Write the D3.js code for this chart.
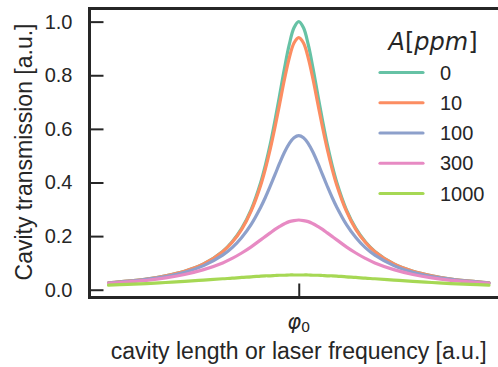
<!DOCTYPE html>
<html>
<head>
<meta charset="utf-8">
<script src="https://cdn.jsdelivr.net/npm/d3@7"></script>
<style>
	body { margin: 0; background: #fff; }
	text { font-family: "Liberation Sans", Arial, sans-serif; fill: #262626; }
	.math { font-family: "DejaVu Sans", sans-serif; }
</style>
</head>
<body>
<svg id="chart" width="498" height="367"></svg>
<script>
// detuning from resonance (arbitrary units), resonance at 0
const detuning = [
	-1.0, -0.9, -0.8, -0.7, -0.6, -0.5, -0.4, -0.35, -0.3, -0.25, -0.2, -0.175, -0.15, -0.125, -0.1, -0.075, -0.05, -0.025,
	0,
	0.025, 0.05, 0.075, 0.1, 0.125, 0.15, 0.175, 0.2, 0.25, 0.3, 0.35, 0.4, 0.5, 0.6, 0.7, 0.8, 0.9, 1.0
];

const losses = ['0', '10', '100', '300', '1000'];

// transmission for each loss value, same order as detuning
const trans0 = [
	0.026, 0.032, 0.040, 0.052, 0.069, 0.096, 0.143, 0.179, 0.229, 0.299, 0.400, 0.466, 0.542, 0.631, 0.727, 0.826, 0.914, 0.977,
	1.000,
	0.977, 0.914, 0.826, 0.727, 0.631, 0.542, 0.466, 0.400, 0.299, 0.229, 0.179, 0.143, 0.096, 0.069, 0.052, 0.040, 0.032, 0.026
];
const trans10 = [
	0.026, 0.032, 0.040, 0.052, 0.069, 0.096, 0.142, 0.177, 0.225, 0.294, 0.390, 0.452, 0.524, 0.606, 0.695, 0.785, 0.864, 0.920,
	0.940,
	0.920, 0.864, 0.785, 0.695, 0.606, 0.524, 0.452, 0.390, 0.294, 0.225, 0.177, 0.142, 0.096, 0.069, 0.052, 0.040, 0.032, 0.026
];
const trans100 = [
	0.025, 0.031, 0.039, 0.049, 0.065, 0.090, 0.129, 0.157, 0.195, 0.244, 0.308, 0.345, 0.386, 0.429, 0.473, 0.513, 0.545, 0.567,
	0.575,
	0.567, 0.545, 0.513, 0.473, 0.429, 0.386, 0.345, 0.308, 0.244, 0.195, 0.157, 0.129, 0.090, 0.065, 0.049, 0.039, 0.031, 0.025
];
const trans300 = [
	0.024, 0.029, 0.035, 0.044, 0.057, 0.075, 0.100, 0.117, 0.137, 0.160, 0.186, 0.199, 0.212, 0.225, 0.236, 0.246, 0.254, 0.258,
	0.260,
	0.258, 0.254, 0.246, 0.236, 0.225, 0.212, 0.199, 0.186, 0.160, 0.137, 0.117, 0.100, 0.075, 0.057, 0.044, 0.035, 0.029, 0.024
];
const trans1000 = [
	0.017, 0.020, 0.023, 0.027, 0.031, 0.036, 0.041, 0.043, 0.046, 0.048, 0.051, 0.052, 0.052, 0.053, 0.054, 0.054, 0.055, 0.055,
	0.055,
	0.055, 0.055, 0.054, 0.054, 0.053, 0.052, 0.052, 0.051, 0.048, 0.046, 0.043, 0.041, 0.036, 0.031, 0.027, 0.023, 0.020, 0.017
];

const yTicks = [0, 0.2, 0.4, 0.6, 0.8, 1.0];

const series = [trans0, trans10, trans100, trans300, trans1000];
const colors = ['#66c2a5', '#fc8d62', '#8da0cb', '#e78ac3', '#a6d854'];

const svg = d3.select('#chart');

// the right spine sits past the edge of the figure
const box = {left: 89.5, right: 508, top: 8.5, bottom: 297.5};

const x = d3.scaleLinear().domain([-1.1, 1.1]).range([box.left, box.right]);
const y = d3.scaleLinear().domain([-0.029, 1.049]).range([box.bottom, box.top]);

const line = d3.line()
	.x((_, i) => x(detuning[i]))
	.y(d => y(d))
	.curve(d3.curveCatmullRom);

svg.append('g')
	.selectAll('path')
	.data(series)
	.enter()
	.append('path')
	.attr('d', line)
	.attr('fill', 'none')
	.attr('stroke', (_, i) => colors[i])
	.attr('stroke-width', 3.2)
	.attr('stroke-linecap', 'round');

// ticks point inward
const yAxis = svg.append('g')
	.attr('transform', `translate(${box.left},0)`)
	.call(d3.axisLeft(y).tickValues(yTicks).tickFormat(d3.format('.1f')).tickSizeInner(-14).tickSizeOuter(0).tickPadding(17));

const xAxis = svg.append('g')
	.attr('transform', `translate(0,${box.bottom})`)
	.call(d3.axisBottom(x).tickValues([0]).tickFormat('').tickSizeInner(-14).tickSizeOuter(0));

[yAxis, xAxis].forEach(g => {
	g.select('.domain').remove();
	g.selectAll('line').attr('stroke', '#262626').attr('stroke-width', 2);
	g.selectAll('text').attr('fill', '#262626').style('font-size', '20px').attr('font-family', null);
});

svg.append('rect')
	.attr('x', box.left)
	.attr('y', box.top)
	.attr('width', box.right - box.left)
	.attr('height', box.bottom - box.top)
	.attr('fill', 'none')
	.attr('stroke', '#262626')
	.attr('stroke-width', 3);

// resonance label
const phi = svg.append('text')
	.attr('class', 'math')
	.attr('x', x(0))
	.attr('y', 329)
	.attr('text-anchor', 'middle')
	.style('font-size', '21px');
phi.append('tspan').style('font-style', 'italic').text('φ');
phi.append('tspan').attr('dy', 3).style('font-size', '14.5px').text('0');

svg.append('text')
	.attr('x', x(0))
	.attr('y', 359)
	.attr('text-anchor', 'middle')
	.style('font-size', '23px')
	.text('cavity length or laser frequency [a.u.]');

svg.append('text')
	.attr('transform', 'translate(32,152) rotate(-90)')
	.attr('text-anchor', 'middle')
	.style('font-size', '23px')
	.text('Cavity transmission [a.u.]');

// legend
const legend = svg.append('g');

const title = legend.append('text')
	.attr('class', 'math')
	.attr('x', 433)
	.attr('y', 50)
	.attr('text-anchor', 'middle')
	.style('font-size', '24px');
title.append('tspan').style('font-style', 'italic').text('A');
title.append('tspan').text('[');
title.append('tspan').style('font-style', 'italic').text('ppm');
title.append('tspan').text(']');

const rows = legend.selectAll('g.row')
	.data(losses)
	.enter()
	.append('g')
	.attr('class', 'row')
	.attr('transform', (_, i) => `translate(0,${72.5 + i * 30.25})`);

rows.append('line')
	.attr('x1', 380)
	.attr('x2', 423)
	.attr('stroke', (_, i) => colors[i])
	.attr('stroke-width', 3.2)
	.attr('stroke-linecap', 'round');

rows.append('text')
	.attr('x', 440)
	.attr('dy', '0.35em')
	.style('font-size', '20px')
	.text(d => d);
</script>
</body>
</html>
